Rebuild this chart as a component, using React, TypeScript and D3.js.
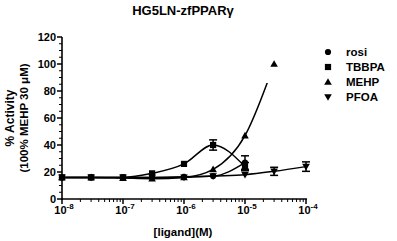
import React from "react";
import * as d3 from "d3";

const W = 397, H = 241;
const title = "HG5LN-zfPPARγ";
const xLabel = "[ligand](M)";
const yLabel1 = "% Activity";
const yLabel2 = "(100% MEHP 30 μM)";

const concBase = [1e-8, 3e-8, 1e-7, 3e-7, 1e-6, 3e-6, 1e-5];
const rosiVals = [16, 16, 16, 16, 16.5, 17, 27];
const rosiErr = [0.8, 0.8, 0.8, 0.8, 0.8, 1, 5];
const tbbpaVals = [16, 16, 16, 19, 26, 40, 24];
const tbbpaErr = [1, 1, 1, 1, 1, 3.8, 3];
const mehpConc = [1e-8, 3e-8, 1e-7, 3e-7, 1e-6, 3e-6, 1e-5, 3e-5];
const mehpVals = [16, 16, 15.5, 15, 16, 22, 47, 100];
const mehpErr = [0.8, 0.8, 0.8, 0.8, 0.8, 1, 1, 0];
const mehpCurveMax = 86;
const pfoaConc = [1e-8, 3e-8, 1e-7, 3e-7, 1e-6, 3e-6, 1e-5, 3e-5, 1e-4];
const pfoaVals = [16, 16, 16, 16, 16, 17, 18, 20.5, 24];
const pfoaErr = [0.8, 0.8, 0.8, 0.8, 0.8, 1, 1, 3, 3.5];
const yTicks = [0, 20, 40, 60, 80, 100, 120];
const xTickExps = [-8, -7, -6, -5, -4];
const legendNames = ["rosi", "TBBPA", "MEHP", "PFOA"];

const M = { left: 62, right: 306, top: 37, bottom: 199 };
const x = d3.scaleLog().domain([1e-8, 1e-4]).range([M.left, M.right]);
const y = d3.scaleLinear().domain([0, 120]).range([M.bottom, M.top]);

const FONT = "Arial, 'Liberation Sans', Helvetica, sans-serif";

type Shape = "circle" | "square" | "up" | "down";

function Marker({ cx, cy, shape }: { cx: number; cy: number; shape: Shape }) {
  if (shape === "circle") return <circle cx={cx} cy={cy} r={3.1} fill="#000" />;
  if (shape === "square") return <rect x={cx - 3.1} y={cy - 3.1} width={6.2} height={6.2} fill="#000" />;
  const s = 3.8;
  if (shape === "up")
    return <path d={`M${cx},${cy - s}L${cx + s},${cy + s * 0.75}L${cx - s},${cy + s * 0.75}Z`} fill="#000" />;
  return <path d={`M${cx},${cy + s}L${cx + s},${cy - s * 0.75}L${cx - s},${cy - s * 0.75}Z`} fill="#000" />;
}

const series = [
  { name: "rosi", conc: concBase, vals: rosiVals, err: rosiErr, shape: "circle" as Shape },
  { name: "TBBPA", conc: concBase, vals: tbbpaVals, err: tbbpaErr, shape: "square" as Shape },
  { name: "MEHP", conc: mehpConc, vals: mehpVals, err: mehpErr, shape: "up" as Shape },
  { name: "PFOA", conc: pfoaConc, vals: pfoaVals, err: pfoaErr, shape: "down" as Shape },
];

export default function App() {
  const line = d3
    .line<[number, number]>()
    .x((d) => x(d[0]))
    .y((d) => y(d[1]))
    .curve(d3.curveMonotoneX);

  const minorY = d3.range(0, 121, 5).filter((v) => v % 20 !== 0);
  const minorX: number[] = [];
  for (let e = -8; e < -4; e++) for (let k = 2; k <= 9; k++) minorX.push(k * Math.pow(10, e));

  const legendY = [52, 67, 82, 97];

  return (
    <svg width={W} height={H} style={{ position: "absolute", left: 0, top: 0 }} fontFamily={FONT}>
      <defs>
        <clipPath id="mehpClip">
          <rect x={0} y={y(mehpCurveMax)} width={W} height={H} />
        </clipPath>
      </defs>
      <text x={183} y={15} textAnchor="middle" fontSize={13} fontWeight="bold">{title}</text>

      {series.map((s) => (
        <path
          key={s.name}
          d={line(s.conc.map((c, i) => [c, s.vals[i]] as [number, number])) || ""}
          fill="none"
          stroke="#000"
          strokeWidth={1.5}
          clipPath={s.name === "MEHP" ? "url(#mehpClip)" : undefined}
        />
      ))}

      {series.map((s) =>
        s.conc.map((c, i) =>
          s.err[i] > 1.2 ? (
            <g key={s.name + i} stroke="#000" strokeWidth={1.5}>
              <line x1={x(c)} x2={x(c)} y1={y(s.vals[i] - s.err[i])} y2={y(s.vals[i] + s.err[i])} />
              <line x1={x(c) - 4} x2={x(c) + 4} y1={y(s.vals[i] - s.err[i])} y2={y(s.vals[i] - s.err[i])} />
              <line x1={x(c) - 4} x2={x(c) + 4} y1={y(s.vals[i] + s.err[i])} y2={y(s.vals[i] + s.err[i])} />
            </g>
          ) : null
        )
      )}

      {series.map((s) =>
        s.conc.map((c, i) => <Marker key={s.name + "m" + i} cx={x(c)} cy={y(s.vals[i])} shape={s.shape} />)
      )}

      <line x1={M.left} x2={M.left} y1={M.top} y2={M.bottom + 1} stroke="#000" strokeWidth={1.6} />
      {yTicks.map((t) => (
        <g key={"yt" + t}>
          <line x1={M.left - 5} x2={M.left} y1={y(t)} y2={y(t)} stroke="#000" strokeWidth={1.5} />
          <text x={M.left - 6} y={y(t) + 4} textAnchor="end" fontSize={11} fontWeight="bold">{t}</text>
        </g>
      ))}
      {minorY.map((t) => (
        <line key={"ym" + t} x1={M.left - 3} x2={M.left} y1={y(t)} y2={y(t)} stroke="#000" strokeWidth={1} />
      ))}

      <line x1={M.left - 1} x2={M.right + 1} y1={M.bottom} y2={M.bottom} stroke="#000" strokeWidth={1.6} />
      {xTickExps.map((e) => (
        <g key={"xt" + e}>
          <line x1={x(Math.pow(10, e))} x2={x(Math.pow(10, e))} y1={M.bottom} y2={M.bottom + 5} stroke="#000" strokeWidth={1.5} />
          <text x={x(Math.pow(10, e)) + 2} y={214} textAnchor="middle" fontSize={11} fontWeight="bold">
            10<tspan fontSize={8} dy={-5}>{e}</tspan>
          </text>
        </g>
      ))}
      {minorX.map((c, i) => (
        <line key={"xm" + i} x1={x(c)} x2={x(c)} y1={M.bottom} y2={M.bottom + 3} stroke="#000" strokeWidth={1} />
      ))}
      <text x={183} y={236} textAnchor="middle" fontSize={11.5} fontWeight="bold">{xLabel}</text>

      <text transform={`translate(14,${(M.top + M.bottom) / 2}) rotate(-90)`} textAnchor="middle" fontSize={12} fontWeight="bold">{yLabel1}</text>
      <text transform={`translate(28,${(M.top + M.bottom) / 2}) rotate(-90)`} textAnchor="middle" fontSize={11.5} fontWeight="bold">{yLabel2}</text>

      {legendNames.map((n, i) => (
        <g key={"lg" + n}>
          <Marker cx={328} cy={legendY[i]} shape={series[i].shape} />
          <text x={346} y={legendY[i] + 4} fontSize={11.5} fontWeight="bold">{n}</text>
        </g>
      ))}
    </svg>
  );
}
